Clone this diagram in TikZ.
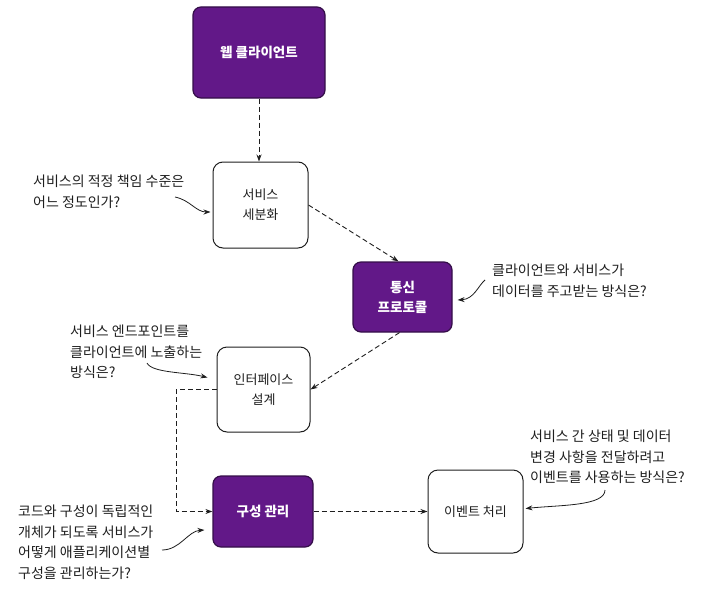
\documentclass[tikz,border=0pt]{standalone}
\usepackage{fontspec}
\setmainfont{Noto Sans CJK KR}
\usetikzlibrary{arrows.meta}
\definecolor{boxpurple}{RGB}{98,24,136}
\definecolor{boxedge}{RGB}{52,14,72}
\definecolor{ink}{RGB}{30,30,30}
\tikzset{
  purplebox/.style={draw=boxedge, line width=1.2pt, fill=boxpurple, rounded corners=8pt,
    text=white, font=\fontsize{13.5}{20}\selectfont\bfseries, align=center, inner sep=0pt},
  whitebox/.style={draw=ink, line width=1pt, fill=white, rounded corners=10pt,
    text=ink, font=\fontsize{13}{20}\selectfont, align=center, inner sep=0pt},
  question/.style={text=ink, font=\fontsize{14}{20.5}\selectfont, align=left, inner sep=0pt, anchor=north west},
  flow/.style={draw=ink, line width=0.9pt, dash pattern=on 5pt off 3pt, -{Stealth[length=7pt,width=5pt]}},
  curvearrow/.style={draw=ink, line width=0.8pt, -{Stealth[length=7pt,width=5pt]}}
}
\begin{document}
\begin{tikzpicture}[x=1pt,y=-1pt]
\useasboundingbox (0,0) rectangle (708,602);
% boxes
\node[purplebox, minimum width=132pt, minimum height=91pt] (web) at (259,52.5) {웹 클라이언트};
\node[whitebox, minimum width=95pt, minimum height=86pt] (sebun) at (260.5,205) {서비스\\세분화};
\node[purplebox, minimum width=99pt, minimum height=70pt] (tongsin) at (402.5,297) {통신\\프로토콜};
\node[whitebox, minimum width=93pt, minimum height=85pt] (iface) at (263.5,389.5) {인터페이스\\설계};
\node[purplebox, minimum width=100pt, minimum height=71pt] (gate) at (263,511.5) {구성 관리};
\node[whitebox, minimum width=95pt, minimum height=83pt] (event) at (475.5,511.5) {이벤트 처리};
% questions
\node[question] (q1) at (33,175) {서비스의 적정 책임 수준은\\어느 정도인가?};
\node[question] (q2) at (492,264) {클라이언트와 서비스가\\데이터를 주고받는 방식은?};
\node[question] (q3) at (70,325) {서비스 엔드포인트를\\클라이언트에 노출하는\\방식은?};
\node[question] (q4) at (18,505) {코드와 구성이 독립적인\\개체가 되도록 서비스가\\어떻게 애플리케이션별\\구성을 관리하는가?};
\node[question] (q5) at (530,430) {서비스 간 상태 및 데이터\\변경 사항을 전달하려고\\이벤트를 사용하는 방식은?};
% flow connectors
\draw[flow] (web.south) -- (sebun.north -| web.south);
\draw[flow] (sebun.east) -- ([shift={(-4,0)}]tongsin.north);
\draw[flow] ([shift={(-3,0)}]tongsin.south) -- (iface.east);
\coordinate (bend1) at (176,389.5);
\coordinate (bend2) at (176,511.5);
\draw[flow] (iface.west) -- (bend1) -- (bend2) -- (gate.west);
\draw[flow] (gate.east) -- (event.west);
% question arrows
\coordinate (c1) at (175,197);
\coordinate (c2) at (485,280);
\coordinate (c3) at (147,363);
\coordinate (c4) at (162,550);
\coordinate (c5) at (605,490);
\draw[curvearrow] (c1) .. controls (190,200) and (196,212) .. ([shift={(-2,7)}]sebun.west);
\draw[curvearrow] (c2) .. controls (478,286) and (474,299) .. ([shift={(5,3)}]tongsin.east);
\draw[curvearrow] (c3) .. controls (152,373) and (185,372) .. ([shift={(-9,-12)}]iface.west);
\draw[curvearrow] (c4) .. controls (180,550) and (188,531) .. ([shift={(-8,18.5)}]gate.west);
\draw[curvearrow] (c5) .. controls (605,506) and (560,505) .. ([shift={(2,-3)}]event.east);
\end{tikzpicture}
\end{document}
